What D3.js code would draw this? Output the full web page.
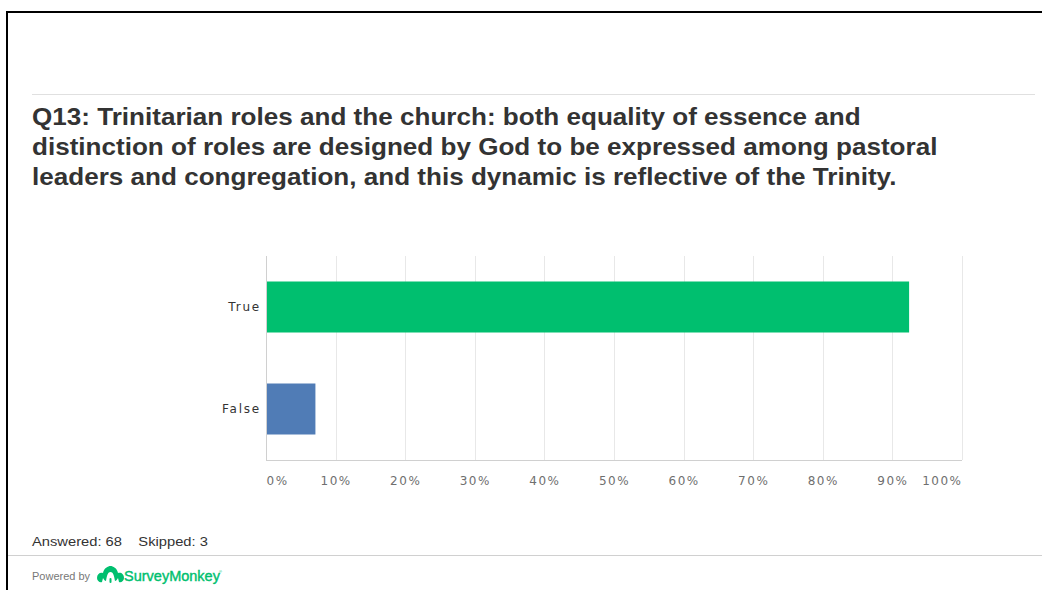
<!DOCTYPE html>
<html>
<head>
<meta charset="utf-8">
<script src="https://cdn.jsdelivr.net/npm/d3@7/dist/d3.min.js"></script>
<style>
  html, body { margin: 0; padding: 0; background: #fff; }
  svg { display: block; }
</style>
</head>
<body>
<svg id="chart" width="1042" height="590"></svg>
<script>
// Survey answers (percent of respondents)
const categories = ["True", "False"];
const values = [92.4, 7.1];
const barColors = ["#00bf6f", "#507cb6"];
const tickValues = [0, 10, 20, 30, 40, 50, 60, 70, 80, 90, 100];
const titleLines = [
  "Q13: Trinitarian roles and the church: both equality of essence and",
  "distinction of roles are designed by God to be expressed among pastoral",
  "leaders and congregation, and this dynamic is reflective of the Trinity."
];
const answered = 68;
const skipped = 3;

const svg = d3.select("#chart");
const sansFont = "Liberation Sans, Arial, sans-serif";
const stretch = 1.134; // horizontal stretch of the exported slide text

// outer frame (top and left edges)
svg.append("path")
  .attr("d", "M7,590 V12 H1042")
  .attr("fill", "none")
  .attr("stroke", "#000")
  .attr("stroke-width", 2);

// separator rules
svg.append("line").attr("x1", 32).attr("x2", 1035).attr("y1", 94.5).attr("y2", 94.5)
  .attr("stroke", "#e0e0e0").attr("stroke-width", 1);
svg.append("line").attr("x1", 8).attr("x2", 1042).attr("y1", 555.5).attr("y2", 555.5)
  .attr("stroke", "#d0d0d0").attr("stroke-width", 1);

// title
svg.append("g")
  .attr("transform", `translate(32,0) scale(${stretch},1)`)
  .selectAll("text").data(titleLines).join("text")
  .attr("x", 0)
  .attr("y", (d, i) => 125 + i * 30)
  .attr("font-family", sansFont)
  .attr("font-weight", "bold")
  .attr("font-size", 23)
  .attr("fill", "#333")
  .text(d => d);

// plot area
const x = d3.scaleLinear().domain([0, 100]).range([266, 962]);
const y = d3.scaleBand().domain(categories).range([256, 460]).paddingInner(0.5).paddingOuter(0.25);

// vertical gridlines
svg.append("g").selectAll("line").data(tickValues.slice(1)).join("line")
  .attr("x1", d => Math.round(x(d)) + 0.5)
  .attr("x2", d => Math.round(x(d)) + 0.5)
  .attr("y1", 256).attr("y2", 460)
  .attr("stroke", "#e8e8e8");

// bars
svg.append("g").selectAll("rect").data(values).join("rect")
  .attr("x", x(0))
  .attr("y", (d, i) => y(categories[i]))
  .attr("width", d => x(d) - x(0))
  .attr("height", y.bandwidth())
  .attr("fill", (d, i) => barColors[i]);

// axes lines
svg.append("line").attr("x1", 266.5).attr("x2", 266.5).attr("y1", 256).attr("y2", 460)
  .attr("stroke", "#d0d0d0");
svg.append("line").attr("x1", 266).attr("x2", 962).attr("y1", 460.5).attr("y2", 460.5)
  .attr("stroke", "#d0d0d0");

// x tick labels
const xAxis = d3.axisBottom(x).tickValues(tickValues).tickSize(0).tickPadding(16)
  .tickFormat(d => d + "%");
const gx = svg.append("g").attr("transform", "translate(0,460)").call(xAxis);
gx.select(".domain").remove();
gx.selectAll("text")
  .attr("font-family", "DejaVu Sans, sans-serif")
  .attr("font-size", 12)
  .attr("letter-spacing", 1.5)
  .attr("fill", "#6f6f6f")
  .attr("text-anchor", (d, i) => i === 0 ? "start" : (i === tickValues.length - 1 ? "end" : "middle"));

// category labels
const yAxis = d3.axisLeft(y).tickSize(0).tickPadding(5);
const gy = svg.append("g").attr("transform", "translate(266,0)").call(yAxis);
gy.select(".domain").remove();
gy.selectAll("text")
  .attr("font-family", "DejaVu Sans, sans-serif")
  .attr("font-size", 12)
  .attr("letter-spacing", 1.8)
  .attr("fill", "#333");

// response counts
svg.append("g")
  .attr("transform", `translate(32,546) scale(${stretch},1)`)
  .append("text")
  .attr("font-family", sansFont)
  .attr("font-size", 13)
  .attr("fill", "#333")
  .attr("xml:space", "preserve")
  .text(`Answered: ${answered}    Skipped: ${skipped}`);

// footer branding
svg.append("text")
  .attr("x", 32).attr("y", 580)
  .attr("font-family", sansFont)
  .attr("font-size", 11)
  .attr("fill", "#777")
  .text("Powered by");

const logo = svg.append("g").attr("transform", "translate(97,566)").attr("fill", "#00bf6f");
logo.append("path")
  .attr("d", "M0,12 C0,8 3,6 6,7 C7,2 11,0 13.5,0 C16,0 20,2 21,7 C24,6 27,8 27,12 C27,15 24,17 22,16 L21,12 C20,14 19,15 18,15 C17,9 16,6 13.5,6 C11,6 10,9 9,15 C8,15 7,14 6,12 L5,16 C3,17 0,15 0,12 Z");
logo.append("rect").attr("x", 12.5).attr("y", 12).attr("width", 2).attr("height", 5).attr("rx", 1);

svg.append("text")
  .attr("x", 124).attr("y", 581)
  .attr("font-family", sansFont)
  .attr("font-size", 14.5)
  .attr("fill", "#00bf6f")
  .attr("stroke", "#00bf6f")
  .attr("stroke-width", 0.4)
  .text("SurveyMonkey");
svg.append("text")
  .attr("x", 219).attr("y", 573)
  .attr("font-family", sansFont)
  .attr("font-size", 4)
  .attr("fill", "#00bf6f")
  .text("®");
</script>
</body>
</html>
